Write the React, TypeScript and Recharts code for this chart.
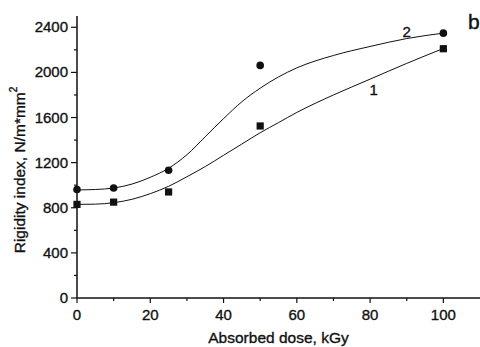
import React from 'react';
import { ComposedChart, Line, Scatter, XAxis, YAxis, ReferenceDot } from 'recharts';

// measured points (dose in kGy)
const doses = [0, 10, 25, 50, 100];
const rigidity1 = [830, 850, 940, 1525, 2210];
const rigidity2 = [962, 975, 1133, 2062, 2348];

// fitted curves
const fitDoses = [0, 5, 10, 15, 20, 25, 30, 35, 40, 45, 50, 55, 60, 70, 80, 90, 100];
const fit1 = [830, 832, 845, 875, 925, 990, 1075, 1165, 1265, 1365, 1465, 1555, 1645, 1800, 1940, 2080, 2212];
const fit2 = [958, 962, 975, 1010, 1070, 1150, 1270, 1430, 1590, 1740, 1860, 1960, 2040, 2150, 2230, 2300, 2348];

const xTicks = [0, 10, 20, 30, 40, 50, 60, 70, 80, 90, 100];
const yTicks = [0, 200, 400, 600, 800, 1000, 1200, 1400, 1600, 1800, 2000, 2200, 2400];

const points1 = doses.map((d, i) => ({ x: d, y: rigidity1[i] }));
const points2 = doses.map((d, i) => ({ x: d, y: rigidity2[i] }));
const curve1 = fitDoses.map((d, i) => ({ x: d, y: fit1[i] }));
const curve2 = fitDoses.map((d, i) => ({ x: d, y: fit2[i] }));

const font = '"Liberation Sans", Arial, sans-serif';
const ink = '#111';
const heavy = { stroke: ink, strokeWidth: 0.35 };

const XTick = (props: any) => {
  const { x, y, payload } = props;
  const major = payload.value % 20 === 0;
  return (
    <g>
      <line x1={x} x2={x} y1={y} y2={y + (major ? 5 : 3)} stroke={ink} strokeWidth={1.2} />
      {major && (
        <text x={x} y={y + 22} textAnchor="middle" fontSize={15} fontFamily={font} fill={ink} {...heavy}>
          {payload.value}
        </text>
      )}
    </g>
  );
};

const YTick = (props: any) => {
  const { x, y, payload } = props;
  const major = payload.value % 400 === 0;
  return (
    <g>
      <line x1={x - (major ? 6 : 3)} x2={x} y1={y} y2={y} stroke={ink} strokeWidth={1.2} />
      {major && (
        <text x={x - 9} y={y + 5} textAnchor="end" fontSize={15} fontFamily={font} fill={ink} {...heavy}>
          {payload.value}
        </text>
      )}
    </g>
  );
};

const Circle = (props: any) => <circle cx={props.cx} cy={props.cy} r={3.8} fill={ink} />;
const Square = (props: any) => (
  <rect x={props.cx - 3.6} y={props.cy - 3.6} width={7.2} height={7.2} fill={ink} />
);

const CurveTag = (props: any) => {
  const vb = props.viewBox;
  const cx = vb.x + (vb.width || 0) / 2;
  const cy = vb.y + (vb.height || 0) / 2;
  return (
    <text x={cx} y={cy + 5} textAnchor="middle" fontSize={15} fontFamily={font} fill={ink} {...heavy}>
      {props.value}
    </text>
  );
};

const XTitle = (props: any) => {
  const vb = props.viewBox;
  return (
    <text x={vb.x + vb.width / 2} y={343} textAnchor="middle" fontSize={15.5} fontFamily={font} fill={ink} {...heavy}>
      Absorbed dose, kGy
    </text>
  );
};

const YTitle = () => {
  const cy = 170;
  return (
    <text
      x={19}
      y={cy}
      transform={`rotate(-90 19 ${cy})`}
      textAnchor="middle"
      dominantBaseline="central"
      fontSize={15.5}
      fontFamily={font}
      fill={ink}
      {...heavy}
    >
      Rigidity index, N/m*mm
      <tspan fontSize={10} dy={-6}>2</tspan>
    </text>
  );
};

const App = () => {
  return (
    <div style={{ position: 'absolute', left: 0, top: 0, background: '#fff' }}>
      <ComposedChart width={480} height={347} margin={{ top: 16, right: 0, bottom: 0, left: 0 }}>
        <XAxis
          type="number"
          dataKey="x"
          domain={[0, 110]}
          ticks={xTicks}
          interval={0}
          tickSize={0}
          tickMargin={0}
          tickLine={false}
          tick={<XTick />}
          axisLine={{ stroke: ink, strokeWidth: 1.5 }}
          height={49}
          label={<XTitle />}
        />
        <YAxis
          type="number"
          dataKey="y"
          domain={[0, 2500]}
          ticks={yTicks}
          interval={0}
          tickSize={0}
          tickMargin={0}
          tickLine={false}
          tick={<YTick />}
          axisLine={{ stroke: ink, strokeWidth: 1.5 }}
          width={77}
          label={<YTitle />}
        />
        <Line data={curve1} dataKey="y" type="monotone" stroke={ink} strokeWidth={1} dot={false} activeDot={false} isAnimationActive={false} />
        <Line data={curve2} dataKey="y" type="monotone" stroke={ink} strokeWidth={1} dot={false} activeDot={false} isAnimationActive={false} />
        <Scatter data={points1} dataKey="y" shape={<Square />} isAnimationActive={false} />
        <Scatter data={points2} dataKey="y" shape={<Circle />} isAnimationActive={false} />
        <ReferenceDot x={81} y={1840} r={0} stroke="none" fill="none" label={<CurveTag value="1" />} />
        <ReferenceDot x={90} y={2360} r={0} stroke="none" fill="none" label={<CurveTag value="2" />} />
      </ComposedChart>
      <div style={{ position: 'absolute', left: 468, top: 10, fontSize: 21, fontFamily: font, color: ink, WebkitTextStroke: '0.4px #111' }}>b</div>
    </div>
  );
};

export default App;
